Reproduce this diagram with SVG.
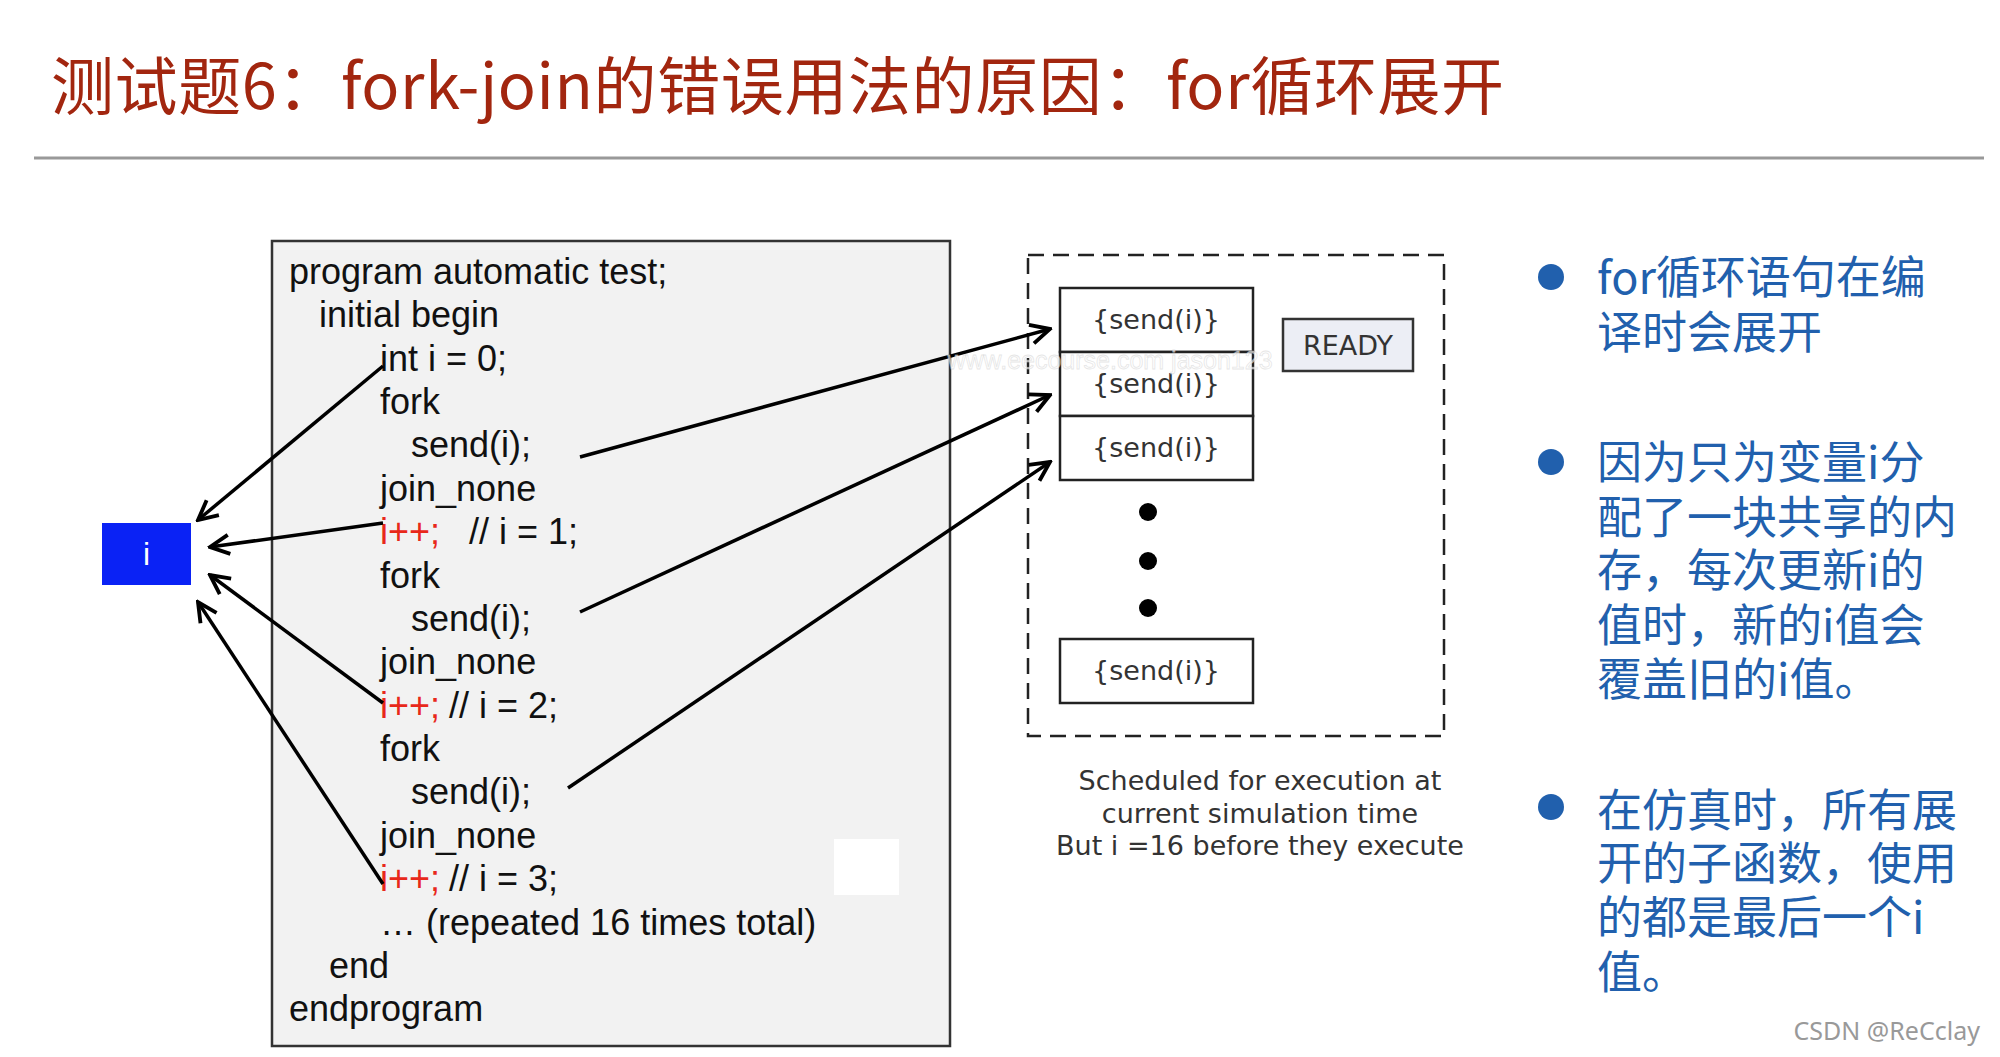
<svg xmlns="http://www.w3.org/2000/svg" width="2000" height="1057" viewBox="0 0 2000 1057">
<defs>
<style>
.code{font-family:"Liberation Sans",Arial,sans-serif;font-size:36px;fill:#111}
.red{fill:#e8281a}
.q{font-family:"DejaVu Sans",Verdana,sans-serif;font-size:27px;fill:#333;text-anchor:middle}
.cap{font-family:"DejaVu Sans",Verdana,sans-serif;font-size:27px;fill:#333;text-anchor:middle}
.bul{font-family:"Noto Sans CJK SC","Noto Sans",sans-serif;font-size:45px;fill:#2160ad}
.box{fill:#fff;stroke:#222;stroke-width:2.5}
.ln{stroke:#000;stroke-width:3.5;fill:none;marker-end:url(#arr)}
</style>
<marker id="arr" viewBox="0 0 20 20" refX="18" refY="10" markerWidth="24" markerHeight="24" markerUnits="userSpaceOnUse" orient="auto">
<path d="M2,2 L18,10 L2,18" fill="none" stroke="#000" stroke-width="3.2"/>
</marker>
</defs>
<rect width="2000" height="1057" fill="#fff"/>
<g id="title">
<text x="51" y="109" font-family="Noto Sans CJK SC,Noto Sans,sans-serif" font-size="63" letter-spacing="0.6" fill="#a2260f">测试题6：fork-join的错误用法的原因：for循环展开</text>
<line x1="34" y1="158" x2="1984" y2="158" stroke="#999" stroke-width="3"/>
</g>
<g id="code">
<rect x="272" y="241" width="678" height="805" fill="#f2f2f2" stroke="#333" stroke-width="2.5"/>
<rect x="834" y="839" width="65" height="56" fill="#fff"/>
<text class="code" x="289" y="284">program automatic test;</text>
<text class="code" x="319" y="327">initial begin</text>
<text class="code" x="380" y="371">int i = 0;</text>
<text class="code" x="380" y="414">fork</text>
<text class="code" x="411" y="457">send(i);</text>
<text class="code" x="380" y="501">join_none</text>
<text class="code" x="380" y="544"><tspan class="red">i++;</tspan><tspan x="469">// i = 1;</tspan></text>
<text class="code" x="380" y="588">fork</text>
<text class="code" x="411" y="631">send(i);</text>
<text class="code" x="380" y="674">join_none</text>
<text class="code" x="380" y="718"><tspan class="red">i++;</tspan><tspan x="449">// i = 2;</tspan></text>
<text class="code" x="380" y="761">fork</text>
<text class="code" x="411" y="804">send(i);</text>
<text class="code" x="380" y="848">join_none</text>
<text class="code" x="380" y="891"><tspan class="red">i++;</tspan><tspan x="449">// i = 3;</tspan></text>
<text class="code" x="380" y="935">… (repeated 16 times total)</text>
<text class="code" x="329" y="978">end</text>
<text class="code" x="289" y="1021">endprogram</text>
</g>
<g id="var-i">
<rect x="102" y="523" width="89" height="62" fill="#0a22f5"/>
<text x="146.5" y="565" font-family="Liberation Sans,Arial,sans-serif" font-size="32" fill="#fff" text-anchor="middle">i</text>
</g>
<g id="ready-queue">
<rect x="1028" y="255" width="416" height="481" fill="none" stroke="#222" stroke-width="2.5" stroke-dasharray="16 9"/>
<rect class="box" x="1060" y="288" width="193" height="64"/>
<rect class="box" x="1060" y="352" width="193" height="64"/>
<rect class="box" x="1060" y="416" width="193" height="64"/>
<rect class="box" x="1060" y="639" width="193" height="64"/>
<text class="q" x="1156" y="329">{send(i)}</text>
<text class="q" x="1156" y="393">{send(i)}</text>
<text class="q" x="1156" y="457">{send(i)}</text>
<text class="q" x="1156" y="680">{send(i)}</text>
<circle cx="1148" cy="512" r="9" fill="#000"/>
<circle cx="1148" cy="561" r="9" fill="#000"/>
<circle cx="1148" cy="608" r="9" fill="#000"/>
</g>
<g id="ready">
<rect x="1283" y="319" width="130" height="52" fill="#eceef5" stroke="#333" stroke-width="2.5"/>
<text class="q" x="1348" y="355" font-size="26">READY</text>
</g>
<g id="caption">
<text class="cap" x="1260" y="790">Scheduled for execution at</text>
<text class="cap" x="1260" y="823">current simulation time</text>
<text class="cap" x="1260" y="855">But i =16 before they execute</text>
</g>
<g id="connectors">
<line class="ln" x1="383" y1="366" x2="198" y2="520"/>
<line class="ln" x1="383" y1="523" x2="210" y2="547"/>
<line class="ln" x1="383" y1="703" x2="210" y2="575"/>
<line class="ln" x1="383" y1="884" x2="198" y2="602"/>
<line class="ln" x1="580" y1="457" x2="1050" y2="329"/>
<line class="ln" x1="580" y1="612" x2="1050" y2="395"/>
<line class="ln" x1="568" y1="788" x2="1050" y2="462"/>
</g>
<text x="1110" y="369" font-family="Liberation Sans,Arial,sans-serif" font-size="25" fill="#fff" fill-opacity="0.6" text-anchor="middle" stroke="#ccc" stroke-opacity="0.5" stroke-width="0.8">www.eecourse.com jason123</text>
<g id="bullets">
<circle cx="1551" cy="277" r="13" fill="#2160ad"/>
<circle cx="1551" cy="462" r="13" fill="#2160ad"/>
<circle cx="1551" cy="807" r="13" fill="#2160ad"/>
<text class="bul" x="1597" y="294">for循环语句在编</text>
<text class="bul" x="1597" y="349">译时会展开</text>
<text class="bul" x="1597" y="479">因为只为变量i分</text>
<text class="bul" x="1597" y="534">配了一块共享的内</text>
<text class="bul" x="1597" y="587">存，每次更新i的</text>
<text class="bul" x="1597" y="642">值时，新的i值会</text>
<text class="bul" x="1597" y="696">覆盖旧的i值。</text>
<text class="bul" x="1597" y="827">在仿真时，所有展</text>
<text class="bul" x="1597" y="880">开的子函数，使用</text>
<text class="bul" x="1597" y="934">的都是最后一个i</text>
<text class="bul" x="1597" y="989">值。</text>
</g>
<text x="1980" y="1040" font-family="Noto Sans,Open Sans,sans-serif" font-size="25" fill="#999" text-anchor="end">CSDN @ReCclay</text>
</svg>
